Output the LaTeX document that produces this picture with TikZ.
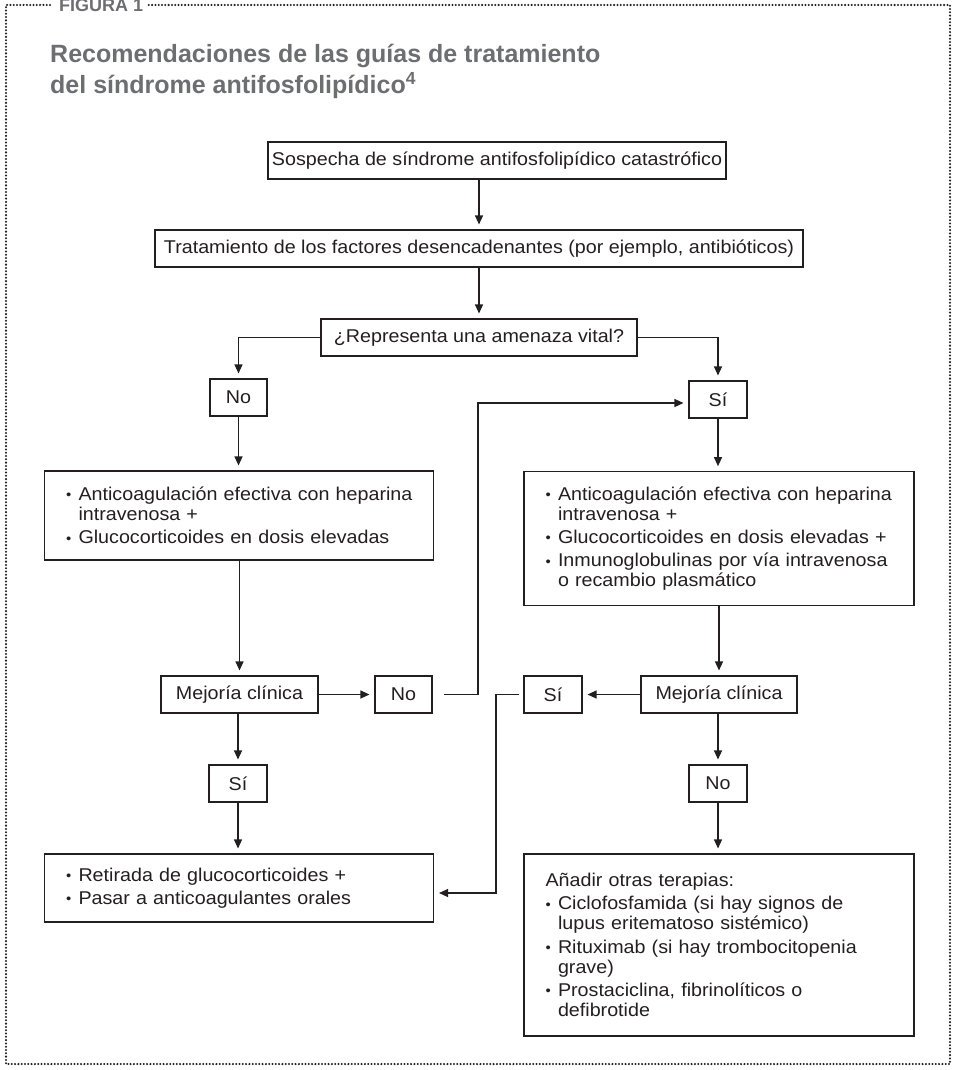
\documentclass[tikz,border=0pt]{standalone}
\usepackage{fontspec}
\setmainfont{Liberation Sans}
\newfontfamily\bodyfam{Liberation Sans}[FakeStretch=1.065]
\usetikzlibrary{arrows.meta}
\definecolor{ink}{HTML}{231F20}
\definecolor{titlegray}{HTML}{6D6E71}
\newcommand{\myBody}{\bodyfam\fontsize{18.5}{20}\selectfont\lineskiplimit=-100pt\relax}
\newcommand{\myBul}{\makebox[12.5pt][l]{\raisebox{0.8pt}{\fontsize{14}{14}\selectfont •}}}
\newcommand{\myInd}{\hspace*{12.5pt}}
\newcommand{\myLine}[1]{\mbox{#1}}
\begin{document}
\begin{tikzpicture}[x=1pt,y=-1pt,
  box/.style={draw=ink, line width=1.1pt, inner sep=0pt, minimum height=37pt, text=ink, font=\myBody},
  listbox/.style={box, inner xsep=21.5pt, inner ysep=0pt, align=left},
  arr/.style={draw=ink, line width=1.2pt, -{Triangle[length=9pt,width=8pt]}, shorten >=5pt},
  frame/.style={draw=ink, line width=2.3pt, line cap=round, dash pattern=on 0pt off 3.3pt}
]
\useasboundingbox (0,0) rectangle (953,1070);
% frame
\draw[frame] (50,5) -- (6,5) -- (6,1064) -- (950,1064) -- (950,5) -- (148,5);
\node[anchor=base west, inner sep=0pt, text=titlegray, font=\fontsize{18}{18}\selectfont\bfseries] (fig) at (59,12) {FIGURA 1};
% title
\node[anchor=base west, inner sep=0pt, text=titlegray, font=\fontsize{25}{30}\selectfont\bfseries] (t1) at (50,63) {Recomendaciones de las guías de tratamiento};
\node[anchor=base west, inner sep=0pt, text=titlegray, font=\fontsize{25}{30}\selectfont\bfseries] (t2) at (50,94) {del síndrome antifosfolipídico\textsuperscript{4}};
% nodes
\node[box, minimum width=458pt] (s1) at (497,160.5) {Sospecha de síndrome antifosfolipídico catastrófico};
\node[box, minimum width=648pt] (s2) at (479,248.5) {Tratamiento de los factores desencadenantes (por ejemplo, antibióticos)};
\node[box, minimum width=316pt] (q) at (479,337.5) {¿Representa una amenaza vital?};
\node[box, minimum width=57pt] (no1) at (238.5,397.5) {No};
\node[box, minimum width=58pt] (si1) at (718,399.5) {Sí};
\node[listbox, text width=346pt, minimum height=89pt] (b4) at (239,515.5) {\myBul\myLine{Anticoagulación efectiva con heparina}\\ \myInd\myLine{intravenosa +}\\[3.3pt] \myBul\myLine{Glucocorticoides en dosis elevadas}};
\node[listbox, text width=347pt, minimum height=134pt] (b5) at (719,538.7) {\myBul\myLine{Anticoagulación efectiva con heparina}\\ \myInd\myLine{intravenosa +}\\[3.3pt] \myBul\myLine{Glucocorticoides en dosis elevadas +}\\[3.3pt] \myBul\myLine{Inmunoglobulinas por vía intravenosa}\\ \myInd\myLine{o recambio plasmático}};
\node[box, minimum width=157pt] (m1) at (239.5,694.5) {Mejoría clínica};
\node[box, minimum width=57pt] (no2) at (403.5,694.5) {No};
\node[box, minimum width=156pt] (m2) at (719,694.5) {Mejoría clínica};
\node[box, minimum width=58pt] (si2) at (553,694.5) {Sí};
\node[box, minimum width=58pt] (si3) at (238,783.5) {Sí};
\node[box, minimum width=58pt] (no3) at (718,783.5) {No};
\node[listbox, text width=346pt, minimum height=68pt] (b7) at (239,888) {\myBul\myLine{Retirada de glucocorticoides +}\\[3.3pt] \myBul\myLine{Pasar a anticoagulantes orales}};
\node[listbox, text width=347pt, minimum height=182pt] (b6) at (719,945) {\myLine{Añadir otras terapias:}\\[3.3pt] \myBul\myLine{Ciclofosfamida (si hay signos de}\\ \myInd\myLine{lupus eritematoso sistémico)}\\[3.3pt] \myBul\myLine{Rituximab (si hay trombocitopenia}\\ \myInd\myLine{grave)}\\[3.3pt] \myBul\myLine{Prostaciclina, fibrinolíticos o}\\ \myInd\myLine{defibrotide}};
% connectors
\coordinate (lpA) at (478,403);
\coordinate (lpB) at (496,893);
\draw[arr] (s1.south -| s2.north) -- (s2.north);
\draw[arr] (s2.south) -- (q.north);
\draw[arr] (q.west) -| (no1.north);
\draw[arr] (q.east) -| (si1.north);
\draw[arr] (no1.south) -- (no1.south |- b4.north);
\draw[arr] (si1.south) -- (si1.south |- b5.north);
\draw[arr] (b4.south -| m1.north) -- (m1.north);
\draw[arr] (b5.south -| m2.north) -- (m2.north);
\draw[arr] (m1.east) -- (no2.west);
\draw[arr] (m2.west) -- (si2.east);
\draw[arr, shorten <=11pt] (no2.east) -| (lpA) -- (lpA -| si1.west);
\draw[arr, shorten <=4pt] (si2.west) -| (lpB) -- (lpB -| b7.east);
\draw[arr] (m1.south -| si3.north) -- (si3.north);
\draw[arr] (si3.south) -- (si3.south |- b7.north);
\draw[arr] (m2.south -| no3.north) -- (no3.north);
\draw[arr] (no3.south) -- (no3.south |- b6.north);
\end{tikzpicture}
\end{document}
